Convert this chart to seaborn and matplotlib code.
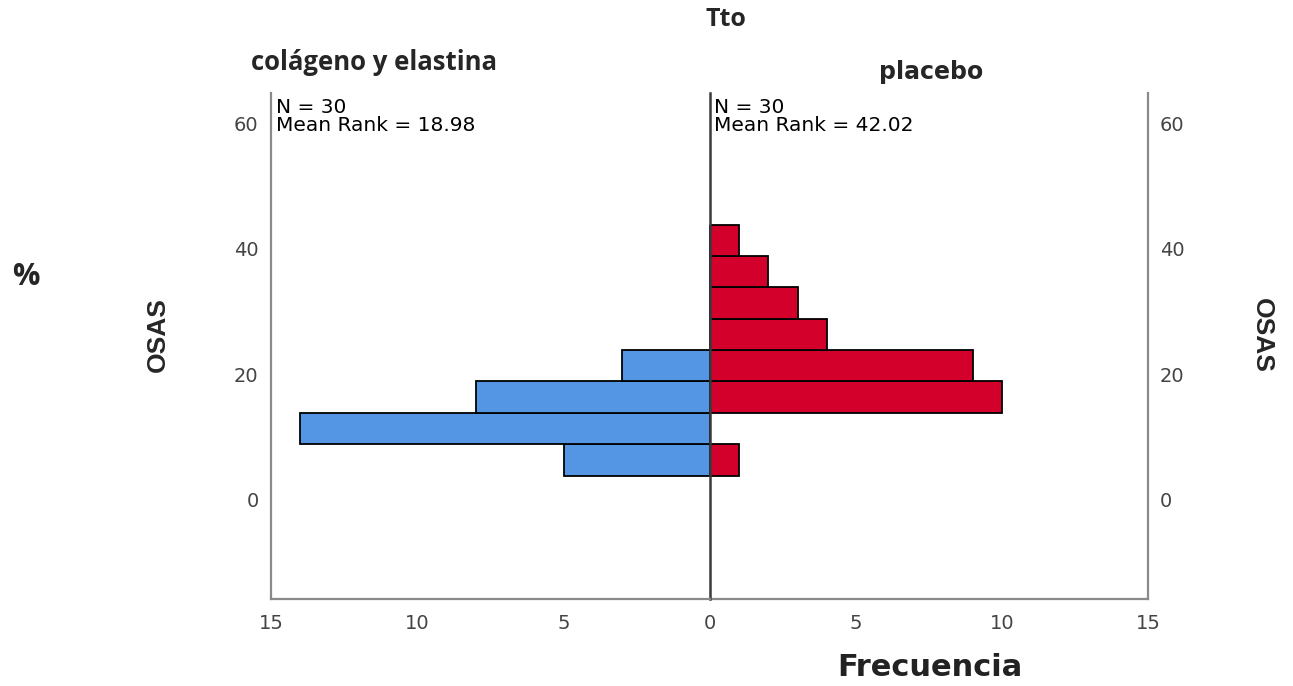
import matplotlib
matplotlib.use("Agg")
import matplotlib.pyplot as plt
import seaborn as sns
import numpy as np
import pandas as pd

# ---- data ----
osas_bin_edges = [3.85, 8.85, 13.85, 18.85, 23.85, 28.85, 33.85, 38.85, 43.85]
osas_bin_mid = [6.35, 11.35, 16.35, 21.35, 26.35, 31.35, 36.35, 41.35]
freq_colageno = [5, 14, 8, 3, 0, 0, 0, 0]
freq_placebo = [1, 0, 10, 9, 4, 3, 2, 1]
groups = ["colágeno y elastina", "placebo"]
stats_n = ["N = 30", "N = 30"]
stats_rank = ["Mean Rank = 18.98", "Mean Rank = 42.02"]
y_ticks = [0, 20, 40, 60]
x_ticks_left = [15, 10, 5, 0]
x_ticks_right = [5, 10, 15]

BLUE = "#5596e4"
RED = "#d4002c"
GRAY = "#8a8a8a"
DARK = "#3a3a3a"
TICKC = "#444444"

sns.set_style("white")
plt.rcParams["font.family"] = ["DejaVu Sans"]

fig = plt.figure(figsize=(12.93, 6.86), dpi=100)
W, H = 1293, 686
def fx(px): return px / W
def fy(py): return 1 - py / H

bottom_px, top_px = 599, 93
axL = fig.add_axes([fx(271), fy(bottom_px), fx(710) - fx(271), (bottom_px - top_px) / H])
axR = fig.add_axes([fx(710), fy(bottom_px), fx(1148) - fx(710), (bottom_px - top_px) / H])

dfL = pd.DataFrame({"osas": osas_bin_mid, "freq": freq_colageno})
dfR = pd.DataFrame({"osas": osas_bin_mid, "freq": freq_placebo})

sns.histplot(data=dfL, y="osas", weights="freq", bins=osas_bin_edges, ax=axL,
             color=BLUE, edgecolor="black", linewidth=1.3, alpha=1)
sns.histplot(data=dfR, y="osas", weights="freq", bins=osas_bin_edges, ax=axR,
             color=RED, edgecolor="black", linewidth=1.3, alpha=1)

ylim = (-15.8, 64.8)
axL.set_xlim(15, 0)
axR.set_xlim(0, 15)
for ax in (axL, axR):
    ax.set_ylim(*ylim)
    ax.set_xlabel("")
    ax.set_ylabel("")
    ax.set_facecolor("white")
    ax.spines["top"].set_visible(False)
    ax.spines["bottom"].set_color(GRAY)
    ax.spines["bottom"].set_linewidth(1.6)
    ax.tick_params(length=0, labelsize=14, labelcolor=TICKC)

axL.spines["left"].set_color(GRAY)
axL.spines["left"].set_linewidth(1.6)
axL.spines["right"].set_color(DARK)
axL.spines["right"].set_linewidth(1.8)
axL.set_yticks(y_ticks)
axL.set_xticks(x_ticks_left)
axL.tick_params(axis="y", pad=9)
axL.tick_params(axis="x", pad=11)

axR.spines["left"].set_visible(False)
axR.spines["right"].set_color(GRAY)
axR.spines["right"].set_linewidth(1.6)
axR.yaxis.tick_right()
axR.set_yticks(y_ticks)
axR.set_xticks(x_ticks_right)
axR.tick_params(axis="y", pad=8.5)
axR.tick_params(axis="x", pad=11)
axR.set_zorder(axL.get_zorder() - 1)

# stats text (two lines each panel)
for x0, n_txt, r_txt in [(276, stats_n[0], stats_rank[0]), (714, stats_n[1], stats_rank[1])]:
    fig.text(fx(x0), fy(113), n_txt, ha="left", va="baseline", fontsize=14.5, color="black")
    fig.text(fx(x0), fy(131), r_txt, ha="left", va="baseline", fontsize=14.5, color="black")

title_font = ["Open Sans", "DejaVu Sans"]
fig.text(fx(726), fy(20), "Tto", ha="center", va="center", fontsize=18,
         fontweight="bold", family=title_font)
fig.text(fx(374), fy(63), groups[0], ha="center", va="center", fontsize=18.5,
         fontweight="bold", family=title_font)
fig.text(fx(931), fy(72), groups[1], ha="center", va="center", fontsize=17,
         fontweight="bold", family=["DejaVu Sans"])
fig.text(fx(26), fy(277), "%", ha="center", va="center", fontsize=22,
         fontweight="bold", family=title_font)
fig.text(fx(158), fy(335), "OSAS", ha="center", va="center", fontsize=19,
         fontweight="bold", rotation=90, family=["Liberation Sans", "DejaVu Sans"])
fig.text(fx(1262), fy(335), "OSAS", ha="center", va="center", fontsize=19,
         fontweight="bold", rotation=270, family=["Liberation Sans", "DejaVu Sans"])
fig.text(fx(930), fy(668), "Frecuencia", ha="center", va="center", fontsize=22,
         fontweight="bold", color="#222222", family=["DejaVu Sans"])

fig.savefig("out.png", dpi=100, facecolor="white")
